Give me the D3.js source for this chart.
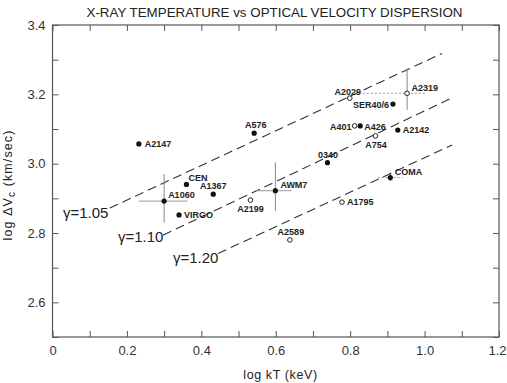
<!DOCTYPE html>
<html><head><meta charset="utf-8">
<script src="https://cdn.jsdelivr.net/npm/d3@7"></script>
<style>
html,body{margin:0;padding:0;background:#fff;}
svg{display:block;font-family:"Liberation Sans",Arial,sans-serif;}
</style></head>
<body><svg id="c" width="507" height="383"></svg>
<script>
// ---- data ----
const clusters = ["A2147","A1060","CEN","A1367","VIRGO","A2199","A576","AWM7","0340","A1795","A2589","A401","A426","A754","A2142","SER40/6","A2029","A2319","COMA"];
const logKT    = [0.232, 0.300, 0.360, 0.432, 0.340, 0.532, 0.542, 0.599, 0.739, 0.778, 0.638, 0.812, 0.827, 0.868, 0.928, 0.915, 0.799, 0.953, 0.908];
const logDV    = [3.057, 2.892, 2.940, 2.912, 2.852, 2.895, 3.088, 2.922, 3.003, 2.889, 2.780, 3.109, 3.109, 3.080, 3.097, 3.172, 3.189, 3.203, 2.960];
const isOpen   = [false, false, false, false, false, true,  false, false, false, true,  true,  true,  false, true,  false, false, true,  true,  false];

// error bars
const errCluster = ["A1060","AWM7","A2319","COMA"];
const errXLow    = [0.232, 0.546, 0.834, 0.874];
const errXHigh   = [0.363, 0.642, 1.005, 0.941];
const errYLow    = [2.830, 2.864, 3.155, 2.950];
const errYHigh   = [2.970, 3.004, 3.275, 2.970];

// model lines
const gammaLabels = ["γ=1.05","γ=1.10","γ=1.20"];
const lineX0 = [0.154, 0.2975, 0.445];
const lineY0 = [2.872, 2.794, 2.741];
const lineX1 = [1.047, 1.072, 1.074];
const lineY1 = [3.318, 3.189, 3.054];

const xTicks = [0,0.1,0.2,0.3,0.4,0.5,0.6,0.7,0.8,0.9,1.0,1.1,1.2];
const yTicks = [2.5,2.6,2.7,2.8,2.9,3.0,3.1,3.2,3.3,3.4];

// ---- layout / style (not data) ----
const labelPos = { // dx, dy, anchor
  "A2147":[6,0,"start"], "A1060":[4,-6,"start"], "CEN":[2,-7,"start"], "A1367":[0,-8,"middle"],
  "VIRGO":[5,0,"start"], "A2199":[0,8.5,"middle"], "A576":[1.5,-8.5,"middle"], "AWM7":[5,-6,"start"],
  "0340":[0.5,-8,"middle"], "A1795":[5,0,"start"], "A2589":[1,-8.5,"middle"], "A401":[-3,0.5,"end"],
  "A426":[4,0.5,"start"], "A754":[0.5,9,"middle"], "A2142":[5,0,"start"], "SER40/6":[-4,0.3,"end"],
  "A2029":[-2,-6.8,"middle"], "A2319":[4.5,-6,"start"], "COMA":[4.5,-6,"start"]
};
const gammaPos = [[63,212.5],[118,237],[173,257.5]];

const svg = d3.select("#c");
const L=52.5, R=499, T=25, B=337;
const x = d3.scaleLinear().domain([0,1.2]).range([L,R]);
const y = d3.scaleLinear().domain([2.5,3.4]).range([B,T]);
const axisColor="#555";

// axes
const fmtX = d=> d===0 ? "0" : d3.format(".1f")(d);
const isMajor = d => Math.abs(Math.round(d*10)%2)===0;
const gB = svg.append("g").attr("transform",`translate(0,${B})`)
  .call(d3.axisBottom(x).tickValues(xTicks).tickSize(-6).tickPadding(9)
    .tickFormat(d=> isMajor(d)?fmtX(d):""));
const gT = svg.append("g").attr("transform",`translate(0,${T})`)
  .call(d3.axisTop(x).tickValues(xTicks).tickSize(-6).tickFormat(""));
const gLft = svg.append("g").attr("transform",`translate(${L},0)`)
  .call(d3.axisLeft(y).tickValues(yTicks).tickSize(-6).tickPadding(7)
    .tickFormat(d=> (isMajor(d) && d>2.55)?d3.format(".1f")(d):""));
const gRt = svg.append("g").attr("transform",`translate(${R},0)`)
  .call(d3.axisRight(y).tickValues(yTicks).tickSize(-6).tickFormat(""));
[gB,gT,gLft,gRt].forEach(g=>{
  g.select(".domain").remove();
  g.selectAll(".tick line").attr("stroke",axisColor).attr("stroke-width",1);
  g.selectAll(".tick text").attr("fill","#333").attr("font-size",13).attr("font-family","Liberation Sans, Arial, sans-serif");
});
// keep the last x label inside the picture
gB.selectAll(".tick text").filter(d=>d===1.2).attr("text-anchor","end").attr("x",7);
svg.append("rect").attr("x",L).attr("y",T).attr("width",R-L).attr("height",B-T)
  .attr("fill","none").attr("stroke",axisColor).attr("stroke-width",1.2);

// title
svg.append("text").attr("x",274.5).attr("y",16.5).attr("text-anchor","middle")
  .attr("font-size",13.5).attr("fill","#222").attr("textLength",376).attr("lengthAdjust","spacingAndGlyphs")
  .text("X-RAY TEMPERATURE vs OPTICAL VELOCITY DISPERSION");

// axis titles
svg.append("text").attr("x",280.5).attr("y",379).attr("text-anchor","middle")
  .attr("font-size",12.5).attr("letter-spacing",0.6).attr("fill","#222").text("log kT (keV)");
const yt = svg.append("text").attr("transform","translate(12,185) rotate(-90)")
  .attr("text-anchor","middle").attr("font-size",12.5).attr("letter-spacing",1.1).attr("fill","#222");
yt.append("tspan").text("log ΔV");
yt.append("tspan").attr("font-size",10).attr("dy",3).text("c");
yt.append("tspan").attr("dy",-3).text(" (km/sec)");

// model lines
gammaLabels.forEach((g,i)=>{
  svg.append("line").attr("x1",x(lineX0[i])).attr("y1",y(lineY0[i]))
    .attr("x2",x(lineX1[i])).attr("y2",y(lineY1[i]))
    .attr("stroke","#333").attr("stroke-width",1.1).attr("stroke-dasharray","9,5");
  svg.append("text").attr("x",gammaPos[i][0]).attr("y",gammaPos[i][1]).attr("dy","0.36em")
    .attr("font-size",15).attr("fill","#222").text(g);
});

// error bars
errCluster.forEach((c,i)=>{
  const k = clusters.indexOf(c);
  const dotted = (c==="A2319"||c==="COMA");
  svg.append("line").attr("x1",x(errXLow[i])).attr("x2",x(errXHigh[i]))
    .attr("y1",y(logDV[k])).attr("y2",y(logDV[k]))
    .attr("stroke","#999").attr("stroke-width",1)
    .attr("stroke-dasharray",dotted?"2,2":null);
  svg.append("line").attr("x1",x(logKT[k])).attr("x2",x(logKT[k]))
    .attr("y1",y(errYLow[i])).attr("y2",y(errYHigh[i]))
    .attr("stroke", c==="COMA"?"#333":"#888").attr("stroke-width",1);
});

// points
clusters.forEach((c,i)=>{
  const cx=x(logKT[i]), cy=y(logDV[i]);
  if(isOpen[i]){
    svg.append("circle").attr("cx",cx).attr("cy",cy).attr("r",2.3)
      .attr("fill","#fff").attr("stroke","#222").attr("stroke-width",1);
  } else {
    svg.append("circle").attr("cx",cx).attr("cy",cy).attr("r",2.6).attr("fill","#111");
  }
  const p = labelPos[c];
  svg.append("text").attr("x",cx+p[0]).attr("y",cy+p[1]).attr("dy","0.36em")
    .attr("text-anchor",p[2]).attr("font-size",9).attr("font-weight","bold")
    .attr("fill","#222").text(c);
});
</script></body></html>
